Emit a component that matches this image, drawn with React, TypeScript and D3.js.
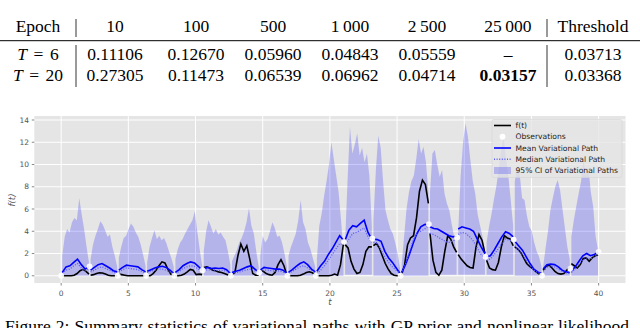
import * as d3 from "d3";

// observation times / values (white dots)
const obsT = [0, 2.11, 4.21, 6.32, 8.42, 10.53, 12.63, 14.74, 16.84, 18.95, 21.05, 23.16, 25.26, 27.37, 29.47, 31.58, 33.68, 35.79, 37.89, 40];
const obsV = [0, 0.85, 0, 0, 0, 0.5, 0, 0.3, 0, 0, 3.05, 3.35, 0, 4.65, 3.45, 1.7, 3.25, 0, 0.65, 2.15];

// true f(t), one list per interval between observations
const fSeg = [
  [0, 0, 0, 0, 0.05, 0.2, 0.45, 0.58, 0.4, 0.15],
  [0.05, 0.1, 0.2, 0.27, 0.25, 0.15, 0.05, 0, 0, 0],
  [0.15, 0.1, 0.05, 0, 0, 0, 0, 0, 0, 0],
  [0, 0, 0.2, 0.5, 0.9, 1.25, 1.15, 0.6, 0.15, 0],
  [0, 0, 0.05, 0.15, 0.35, 0.57, 0.5, 0.1, 0.15, 0.1],
  [0.75, 0.8, 0.7, 0.5, 0.45, 0.35, 0.3, 0.2, 0.1, 0.05],
  [0.05, 0.3, 1.8, 2.85, 2.2, 2.7, 1.5, 0.2, 0.05, 0.05],
  [0.5, 0.4, 0.2, 0.1, 0.05, 0.3, 1.0, 1.45, 0.9, 0.05],
  [0, 0, 0, 0, 0.05, 0.15, 0.3, 0.36, 0.27, 0.1],
  [0, 0, 0, 0, 0, 0.05, 0.15, 0.05, 1.0, 2.9],
  [2.8, 2.5, 1.3, 0.6, 0.2, 0.3, 1.0, 2.2, 2.6, 2.6],
  [2.7, 2.9, 2.5, 1.8, 1.1, 0.6, 0.2, 0.05, 0, 0],
  [0.1, 1.0, 2.8, 3.4, 3.6, 5.2, 7.6, 8.6, 8.2, 6.5],
  [3.8, 1.4, 0.3, 0.05, 0.5, 2.2, 3.6, 3.3, 2.6, 2.1],
  [1.9, 1.5, 1.2, 0.9, 0.75, 0.7, 2.6, 3.7, 3.2, 2.0],
  [1.4, 0.7, 0.55, 0.5, 1.2, 2.6, 3.6, 3.4, 3.3, 2.7],
  [2.6, 2.4, 2.1, 1.6, 1.1, 0.85, 0.65, 0.4, 0.2, 0.05],
  [0.5, 0.85, 0.95, 0.7, 0.4, 0.2, 0.15, 0.2, 0.5, 0.8],
  [1.1, 0.9, 0.7, 1.0, 1.55, 1.6, 1.3, 1.6, 1.8, 1.9],
];

const meanSeg = [
  [0.3, 0.8, 0.9, 1.2, 1.5, 1.0, 0.6, 0.8],
  [0.5, 0.75, 1.0, 1.1, 0.9, 0.7, 0.45, 0.35],
  [0.5, 0.75, 0.95, 0.9, 0.85, 0.8, 0.55, 0.35],
  [0.4, 0.55, 0.7, 0.8, 0.85, 0.75, 0.5, 0.2],
  [0.3, 0.55, 0.9, 1.1, 1.25, 1.15, 0.85, 0.5],
  [0.6, 0.75, 0.65, 0.7, 0.65, 0.7, 0.55, 0.2],
  [0.3, 0.4, 0.5, 0.65, 0.8, 0.9, 0.6, 0.3],
  [0.5, 0.75, 0.7, 0.65, 0.6, 0.6, 0.5, 0.2],
  [0.3, 0.55, 0.85, 1.1, 1.25, 1.0, 0.6, 0.35],
  [0.4, 0.9, 1.3, 1.9, 2.4, 3.0, 3.6, 3.2],
  [3.2, 4.1, 4.5, 4.4, 4.7, 5.0, 3.9, 3.3],
  [3.3, 3.25, 3.1, 2.2, 1.6, 1.2, 0.7, 0.2],
  [0.3, 1.0, 1.9, 2.9, 3.8, 4.4, 4.6, 4.65],
  [4.4, 4.25, 4.2, 4.0, 3.8, 3.6, 3.5, 3.55],
  [4.2, 4.4, 4.3, 4.2, 4.0, 3.3, 2.6, 2.0],
  [1.7, 1.8, 2.3, 2.9, 3.5, 3.95, 3.8, 3.5],
  [3.1, 2.7, 2.3, 1.7, 1.1, 0.6, 0.35, 0.2],
  [0.6, 1.0, 1.05, 1.0, 0.8, 0.5, 0.35, 0.3],
  [0.4, 0.8, 1.3, 1.8, 2.0, 1.8, 1.9, 2.15],
];

const medianSeg = [
  [0.2, 0.5, 0.6, 0.9, 1.1, 0.7, 0.45, 0.7],
  [0.35, 0.5, 0.7, 0.8, 0.65, 0.5, 0.3, 0.25],
  [0.35, 0.55, 0.7, 0.65, 0.6, 0.55, 0.4, 0.25],
  [0.3, 0.4, 0.5, 0.6, 0.6, 0.5, 0.35, 0.15],
  [0.2, 0.4, 0.65, 0.8, 0.9, 0.85, 0.6, 0.4],
  [0.45, 0.55, 0.5, 0.5, 0.45, 0.5, 0.4, 0.15],
  [0.2, 0.3, 0.35, 0.45, 0.55, 0.6, 0.45, 0.2],
  [0.35, 0.5, 0.5, 0.45, 0.4, 0.45, 0.35, 0.15],
  [0.2, 0.4, 0.6, 0.8, 0.9, 0.7, 0.45, 0.25],
  [0.2, 0.5, 0.9, 1.4, 1.9, 2.4, 2.9, 2.8],
  [2.9, 3.3, 3.8, 3.9, 4.1, 4.3, 3.5, 3.0],
  [3.0, 2.9, 2.3, 1.7, 1.2, 0.8, 0.5, 0.2],
  [0.2, 1.0, 2.1, 3.2, 3.8, 4.0, 4.2, 4.5],
  [3.8, 3.7, 3.5, 3.3, 3.1, 3.0, 3.1, 3.3],
  [3.7, 3.9, 3.8, 3.5, 3.1, 2.5, 1.9, 1.6],
  [1.4, 1.5, 1.9, 2.4, 2.9, 3.3, 3.2, 3.1],
  [2.7, 2.3, 1.9, 1.4, 0.9, 0.5, 0.3, 0.15],
  [0.4, 0.75, 0.85, 0.8, 0.6, 0.4, 0.25, 0.2],
  [0.3, 0.6, 1.0, 1.4, 1.6, 1.5, 1.7, 2.0],
];

const ciUpper = [
  [1.8, 3.5, 4.2, 3.9, 4.8, 5.2, 5.0, 7.0, 5.5, 4.2, 2.6, 1.2],
  [1.5, 2.8, 3.6, 4.2, 4.9, 4.6, 4.1, 3.5, 3.7, 2.6, 1.8, 0.8],
  [1.6, 2.6, 3.4, 3.6, 4.2, 4.7, 4.4, 3.9, 3.5, 2.8, 1.9, 0.9],
  [1.2, 2.6, 3.4, 4.1, 3.3, 3.6, 3.2, 3.4, 2.9, 2.2, 1.6, 0.8],
  [1.5, 2.4, 3.0, 3.3, 3.8, 4.2, 4.6, 5.0, 5.8, 4.0, 2.4, 0.9],
  [2.2, 4.0, 5.0, 4.4, 3.8, 4.2, 3.7, 3.9, 3.5, 3.2, 2.2, 1.0],
  [1.3, 1.8, 2.3, 3.0, 3.4, 4.0, 4.8, 6.1, 4.5, 3.8, 2.2, 0.8],
  [1.8, 3.6, 3.0, 3.3, 4.0, 4.8, 4.3, 3.5, 3.6, 3.0, 2.0, 0.8],
  [1.8, 2.6, 3.2, 3.8, 5.0, 6.8, 4.8, 4.2, 3.0, 2.4, 1.6, 0.8],
  [1.5, 4.5, 5.6, 7.2, 8.5, 10.0, 12.0, 10.5, 9.0, 7.5, 5.0, 2.2],
  [3.0, 8.5, 13.4, 11.0, 11.8, 12.8, 10.8, 11.5, 10.2, 11.0, 9.0, 4.5],
  [5.0, 9.5, 12.6, 11.5, 8.5, 5.9, 5.0, 4.2, 3.8, 3.0, 2.0, 0.7],
  [1.0, 3.5, 6.0, 7.5, 8.5, 9.0, 10.5, 12.3, 11.0, 11.6, 10.2, 7.5],
  [7.5, 11.0, 11.3, 10.0, 8.9, 9.5, 7.4, 6.5, 5.9, 4.6, 3.5, 2.0],
  [4.0, 9.0, 12.0, 13.7, 12.5, 10.4, 8.5, 7.4, 5.5, 4.5, 3.5, 2.3],
  [3.0, 4.4, 5.5, 6.8, 8.0, 9.5, 11.3, 12.5, 10.7, 9.0, 6.8, 4.5],
  [8.5, 9.8, 9.2, 7.0, 6.8, 5.4, 4.4, 4.0, 3.0, 2.2, 1.7, 0.8],
  [0.8, 2.5, 4.0, 5.9, 7.0, 8.0, 8.6, 7.7, 6.0, 4.3, 2.6, 1.5],
  [3.5, 5.0, 6.2, 7.4, 8.5, 10.4, 9.0, 9.9, 7.5, 6.2, 3.5, 2.3],
];

// lower edge of the band, one level per interval
const ciLower = [0, 0, 0, 0, 0, 0, 0, 0, 0, 0, 0.1, 0, 0, 0.1, 0.1, 0.1, 0, 0, 0];

const xTicks = [0, 5, 10, 15, 20, 25, 30, 35, 40];
const yTicks = [0, 2, 4, 6, 8, 10, 12, 14];

const legendLabels = ["f(t)", "Observations", "Mean Variational Path", "Median Variational Path", "95% CI of Variational Paths"];

// table above the chart
const epochs = ["10", "100", "500", "1\u2009000", "2\u2009500", "25\u2009000"];
const rowT = ["6", "20"];
const rowValues = [
  ["0.11106", "0.12670", "0.05960", "0.04843", "0.05559", "\u2013"],
  ["0.27305", "0.11473", "0.06539", "0.06962", "0.04714", "0.03157"],
];
const thresholds = ["0.03713", "0.03368"];
const caption = "Figure 2: Summary statistics of variational paths with GP prior and nonlinear likelihood";

const x = d3.scaleLinear().domain([-2, 42]).range([34.3, 625.5]);
const y = d3.scaleLinear().domain([-0.65, 14.36]).range([283, 116]);

type P = { t: number; v: number };
function segPoints(vals: number[], i: number): P[] {
  const t0 = obsT[i] + 0.08;
  const t1 = obsT[i + 1] - 0.04;
  return vals.map((v, k) => ({ t: t0 + ((t1 - t0) * k) / (vals.length - 1), v }));
}

const line = d3.line<P>().x((d) => x(d.t)).y((d) => y(d.v));

const serif = "'Liberation Serif', 'Times New Roman', serif";
const sans = "'DejaVu Sans', sans-serif";

export default function App() {
  const [px0, px1] = x.range();
  const [py0, py1] = y.range();
  const colX = [115, 196, 273, 350, 427, 508];
  const rowY = [60, 81];

  return (
    <svg width={640} height={328} style={{ position: "absolute", left: 0, top: 0, background: "#fff" }}>
      {/* table */}
      <g fontFamily={serif} fontSize={17.5} fill="#000">
        <text x={38} y={31.5} textAnchor="middle">Epoch</text>
        {epochs.map((e, i) => (
          <text key={e} x={colX[i]} y={31.5} textAnchor="middle">{e}</text>
        ))}
        <text x={593} y={31.5} textAnchor="middle">Threshold</text>
        <line x1={76} x2={76} y1={19} y2={37} stroke="#000" strokeWidth={0.8} />
        <line x1={547} x2={547} y1={19} y2={37} stroke="#000" strokeWidth={0.8} />
        <line x1={0} x2={640} y1={40.7} y2={40.7} stroke="#000" strokeWidth={1} />
        <line x1={76} x2={76} y1={45} y2={87} stroke="#000" strokeWidth={0.8} />
        <line x1={547} x2={547} y1={45} y2={87} stroke="#000" strokeWidth={0.8} />
        {rowT.map((r, j) => (
          <g key={r}>
            <text x={38} y={rowY[j]} textAnchor="middle">
              <tspan fontStyle="italic">T</tspan>
              <tspan dx={6.5}>=</tspan>
              <tspan dx={6.5}>{r}</tspan>
            </text>
            {rowValues[j].map((v, i) => (
              <text key={i} x={colX[i]} y={rowY[j]} textAnchor="middle" fontWeight={v === "0.03157" ? "bold" : "normal"}>{v}</text>
            ))}
            <text x={593} y={rowY[j]} textAnchor="middle">{thresholds[j]}</text>
          </g>
        ))}
      </g>

      {/* chart panel */}
      <rect x={px0} y={py1} width={px1 - px0} height={py0 - py1} fill="#e5e5e5" />
      {xTicks.map((t) => (
        <line key={"gx" + t} x1={x(t)} x2={x(t)} y1={py1} y2={py0} stroke="#fff" strokeWidth={1} />
      ))}
      {yTicks.map((t) => (
        <line key={"gy" + t} x1={px0} x2={px1} y1={y(t)} y2={y(t)} stroke="#fff" strokeWidth={1} />
      ))}

      {ciUpper.map((u, i) => {
        const up = segPoints(u, i);
        const area = d3.area<P>().x((d) => x(d.t)).y0(y(ciLower[i])).y1((d) => y(d.v));
        return <path key={"ci" + i} d={area(up) ?? ""} fill="#0000ff" fillOpacity={0.21} />;
      })}
      {fSeg.map((s, i) => (
        <path key={"f" + i} d={line(segPoints(s, i)) ?? ""} fill="none" stroke="#000" strokeWidth={1.6} />
      ))}
      {meanSeg.map((s, i) => (
        <path key={"m" + i} d={line(segPoints(s, i)) ?? ""} fill="none" stroke="#0000ff" strokeWidth={1.6} />
      ))}
      {medianSeg.map((s, i) => (
        <path key={"md" + i} d={line(segPoints(s, i)) ?? ""} fill="none" stroke="#5a5aff" strokeWidth={1.3} strokeDasharray="1,1.6" />
      ))}
      {obsT.map((t, i) => (
        <circle key={"o" + i} cx={x(t)} cy={y(obsV[i])} r={2.9} fill="#fff" fillOpacity={0.9} />
      ))}

      {/* axes */}
      <g fontFamily={sans} fontSize={7.5} fill="#555">
        {xTicks.map((t) => (
          <g key={"xt" + t}>
            <line x1={x(t)} x2={x(t)} y1={py0} y2={py0 + 2.5} stroke="#555" strokeWidth={0.7} />
            <text x={x(t)} y={295.5} textAnchor="middle">{t}</text>
          </g>
        ))}
        {yTicks.map((t) => (
          <g key={"yt" + t}>
            <line x1={px0 - 2.5} x2={px0} y1={y(t)} y2={y(t)} stroke="#555" strokeWidth={0.7} />
            <text x={29} y={y(t)} textAnchor="end" dominantBaseline="central">{t}</text>
          </g>
        ))}
        <text x={x(20)} y={305} textAnchor="middle" fontSize={8.5} fontStyle="italic">t</text>
        <text transform="translate(15,200) rotate(-90)" textAnchor="middle" fontSize={8.5} fontStyle="italic">f(t)</text>
      </g>

      {/* legend */}
      <g fontFamily={sans} fontSize={7.6} fill="#222">
        <rect x={492} y={119.5} width={130} height={58} rx={2} fill="#e5e5e5" fillOpacity={0.8} stroke="#d5d5d5" strokeWidth={0.6} />
        {legendLabels.map((l, i) => {
          const ly = 125.5 + i * 11.25;
          return (
            <g key={l}>
              {i === 0 && <line x1={494} x2={511} y1={ly} y2={ly} stroke="#000" strokeWidth={1.6} />}
              {i === 1 && <circle cx={502.5} cy={ly} r={2.9} fill="#fff" />}
              {i === 2 && <line x1={494} x2={511} y1={ly} y2={ly} stroke="#0000ff" strokeWidth={1.6} />}
              {i === 3 && <line x1={494} x2={511} y1={ly} y2={ly} stroke="#5a5aff" strokeWidth={1.3} strokeDasharray="1,1.6" />}
              {i === 4 && <rect x={494} y={ly - 3.5} width={17} height={7} fill="#0000ff" fillOpacity={0.21} />}
              <text x={515.5} y={ly} dominantBaseline="central">{l}</text>
            </g>
          );
        })}
      </g>

      <text x={5} y={332} fontFamily={serif} fontSize={17.5} wordSpacing={0.7}>{caption}</text>
    </svg>
  );
}
